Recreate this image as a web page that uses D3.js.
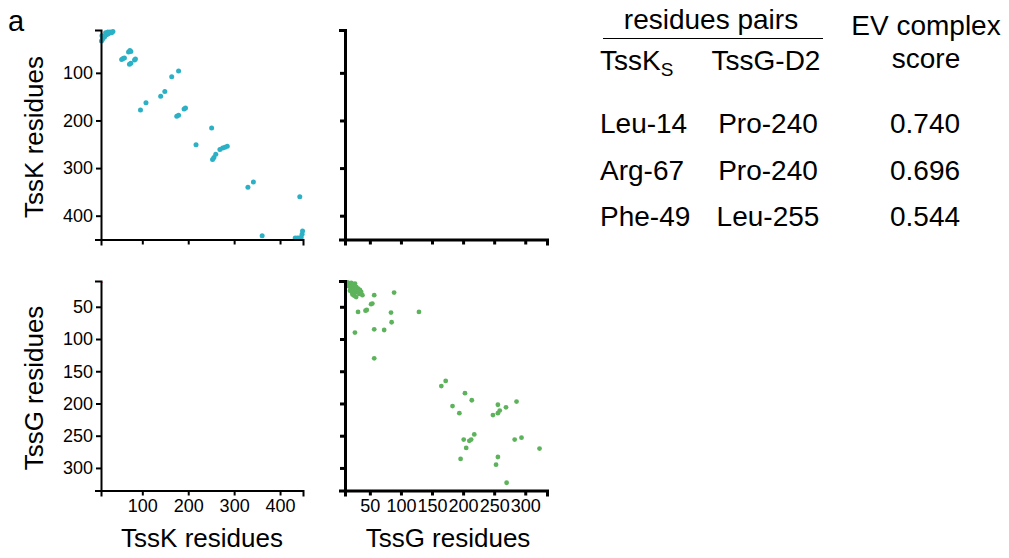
<!DOCTYPE html>
<html>
<head>
<meta charset="utf-8">
<script src="https://cdn.jsdelivr.net/npm/d3@7"></script>
<style>
body { margin: 0; background: #fff; }
text { font-family: "Liberation Sans", Arial, Helvetica, sans-serif; fill: #000; }
</style>
</head>
<body>
<svg id="chart" width="1009" height="558"></svg>
<script>
// contact pairs [residue i, residue j]
var tssKContacts = [
  [13,30],[15,27],[18,24],[22,20],[26,18],[30,14],[33,16],[36,13],[12,22],[20,16],[25,14],[11,33],
  [55,72],[58,70],[61,69],[70,56],[73,53],[75,55],[72,82],[75,80],[83,73],[85,71],
  [96,178],[108,163],[140,149],[149,139],[164,108],[179,96],
  [175,191],[179,189],[191,176],[194,174],[251,216],[217,251],
  [253,282],[256,278],[260,271],[269,261],[275,258],[280,256],[285,254],
  [330,340],[342,329],[443,360],[361,442],
  [433,447],[438,447],[442,447],[446,446],[448,439],[449,432]
];
var tssGContacts = [
  [14,12],[17,14],[20,13],[23,15],[26,14],[13,16],[16,18],[19,20],[22,18],[25,20],[28,19],
  [31,22],[34,24],[18,25],[21,27],[24,24],[27,28],[30,26],[33,30],[36,27],[25,33],[28,35],
  [22,31],[38,32],
  [57,32],[89,28],[31,58],[43,56],[45,55],[52,46],[54,45],[84,59],[129,58],[85,74],
  [26,90],[57,85],[73,86],[57,130],
  [165,173],[172,165],[203,184],[214,195],[183,204],[194,215],
  [256,202],[269,206],[286,197],[248,218],[256,215],[259,211],
  [218,248],[201,256],[210,258],[213,256],[205,269],[283,256],[294,253],[323,270],
  [196,286],[256,283],[253,295],[270,323]
];
var interContacts = [[12,12]];

var tssKDomain = [10, 450];
var tssGDomain = [10, 335];
var tssKTicks = [100, 200, 300, 400];
var tssGTicks = [50, 100, 150, 200, 250, 300];

var tssKResidues = ["Leu-14", "Arg-67", "Phe-49"];
var tssGResidues = ["Pro-240", "Pro-240", "Leu-255"];
var evScores = [0.740, 0.696, 0.544];

var svg = d3.select("#chart");
svg.append("rect").attr("width", 1009).attr("height", 558).attr("fill", "#fff");

var panelW = 202, panelH = 209.5;
var colX = [101, 345], rowY = [30, 281];

var xK = d3.scaleLinear().domain(tssKDomain).range([0, panelW]);
var yK = d3.scaleLinear().domain(tssKDomain).range([0, panelH]);
var xG = d3.scaleLinear().domain(tssGDomain).range([0, panelW]);
var yG = d3.scaleLinear().domain(tssGDomain).range([0, panelH]);

var panels = [
  {col:0, row:0, x:xK, y:yK, xt:tssKTicks, yt:tssKTicks, data:tssKContacts, color:"#2bb0c5", r:2.5, xLab:false, yLab:true, sw:2},
  {col:1, row:0, x:xG, y:yK, xt:tssGTicks, yt:tssKTicks, data:interContacts, color:"#e8707a", r:0.9, xLab:false, yLab:false, sw:3},
  {col:0, row:1, x:xK, y:yG, xt:tssKTicks, yt:tssGTicks, data:interContacts, color:"#e8707a", r:0.9, xLab:true, yLab:true, sw:2},
  {col:1, row:1, x:xG, y:yG, xt:tssGTicks, yt:tssGTicks, data:tssGContacts, color:"#5db35b", r:2.4, xLab:true, yLab:false, sw:3}
];

panels.forEach(function(p) {
  var g = svg.append("g")
    .attr("transform", "translate(" + colX[p.col] + "," + rowY[p.row] + ")");

  g.selectAll("circle").data(p.data).enter()
    .append("circle")
    .attr("cx", function(d) { return p.x(d[0]); })
    .attr("cy", function(d) { return p.y(d[1]); })
    .attr("r", p.r)
    .attr("fill", p.color);

  var xa = d3.axisBottom(p.x).tickValues(p.xt).tickSizeInner(5).tickSizeOuter(6).tickPadding(4);
  var ya = d3.axisLeft(p.y).tickValues(p.yt).tickSizeInner(5).tickSizeOuter(6).tickPadding(3);
  if (!p.xLab) xa.tickFormat("");
  if (!p.yLab) ya.tickFormat("");

  var gx = g.append("g").attr("transform", "translate(0," + panelH + ")").call(xa);
  var gy = g.append("g").call(ya);
  [gx, gy].forEach(function(a) {
    a.selectAll("path, line").attr("stroke", "#000").attr("stroke-width", p.sw);
    a.selectAll("text").attr("font-size", 18).attr("fill", "#000")
      .style("font-family", "'Liberation Sans', Arial, sans-serif");
  });
});

// axis titles
var titleSize = 26;
svg.append("text").attr("x", 202).attr("y", 547).attr("text-anchor", "middle")
  .attr("font-size", titleSize).text("TssK residues");
svg.append("text").attr("x", 448).attr("y", 547).attr("text-anchor", "middle")
  .attr("font-size", titleSize).text("TssG residues");
svg.append("text").attr("transform", "translate(43,137) rotate(-90)").attr("text-anchor", "middle")
  .attr("font-size", titleSize).text("TssK residues");
svg.append("text").attr("transform", "translate(43,388) rotate(-90)").attr("text-anchor", "middle")
  .attr("font-size", titleSize).text("TssG residues");

svg.append("text").attr("x", 8).attr("y", 31).attr("font-size", 29).text("a");

// table of top pairs
var tf = 28;
var tab = svg.append("g");
tab.append("text").attr("x", 711).attr("y", 29).attr("text-anchor", "middle")
  .attr("font-size", tf).text("residues pairs");
tab.append("line").attr("x1", 603).attr("x2", 823).attr("y1", 38.5).attr("y2", 38.5)
  .attr("stroke", "#000").attr("stroke-width", 1.2);
var hk = tab.append("text").attr("x", 600).attr("y", 70).attr("font-size", tf);
hk.append("tspan").text("TssK");
hk.append("tspan").attr("font-size", 19).attr("dy", 6).text("S");
tab.append("text").attr("x", 766).attr("y", 70).attr("text-anchor", "middle")
  .attr("font-size", tf).text("TssG-D2");
tab.append("text").attr("x", 926).attr("y", 35).attr("text-anchor", "middle")
  .attr("font-size", tf).text("EV complex");
tab.append("text").attr("x", 926).attr("y", 68).attr("text-anchor", "middle")
  .attr("font-size", tf).text("score");

var rowBase = d3.scaleLinear().domain([0, 2]).range([133, 226]);
var fmt = d3.format(".3f");
tab.selectAll(".rk").data(tssKResidues).enter().append("text")
  .attr("x", 600).attr("y", function(d, i) { return rowBase(i); })
  .attr("font-size", tf).text(function(d) { return d; });
tab.selectAll(".rg").data(tssGResidues).enter().append("text")
  .attr("x", 768).attr("y", function(d, i) { return rowBase(i); })
  .attr("text-anchor", "middle")
  .attr("font-size", tf).text(function(d) { return d; });
tab.selectAll(".rs").data(evScores).enter().append("text")
  .attr("x", 925).attr("y", function(d, i) { return rowBase(i); })
  .attr("text-anchor", "middle")
  .attr("font-size", tf).text(function(d) { return fmt(d); });
</script>
</body>
</html>
